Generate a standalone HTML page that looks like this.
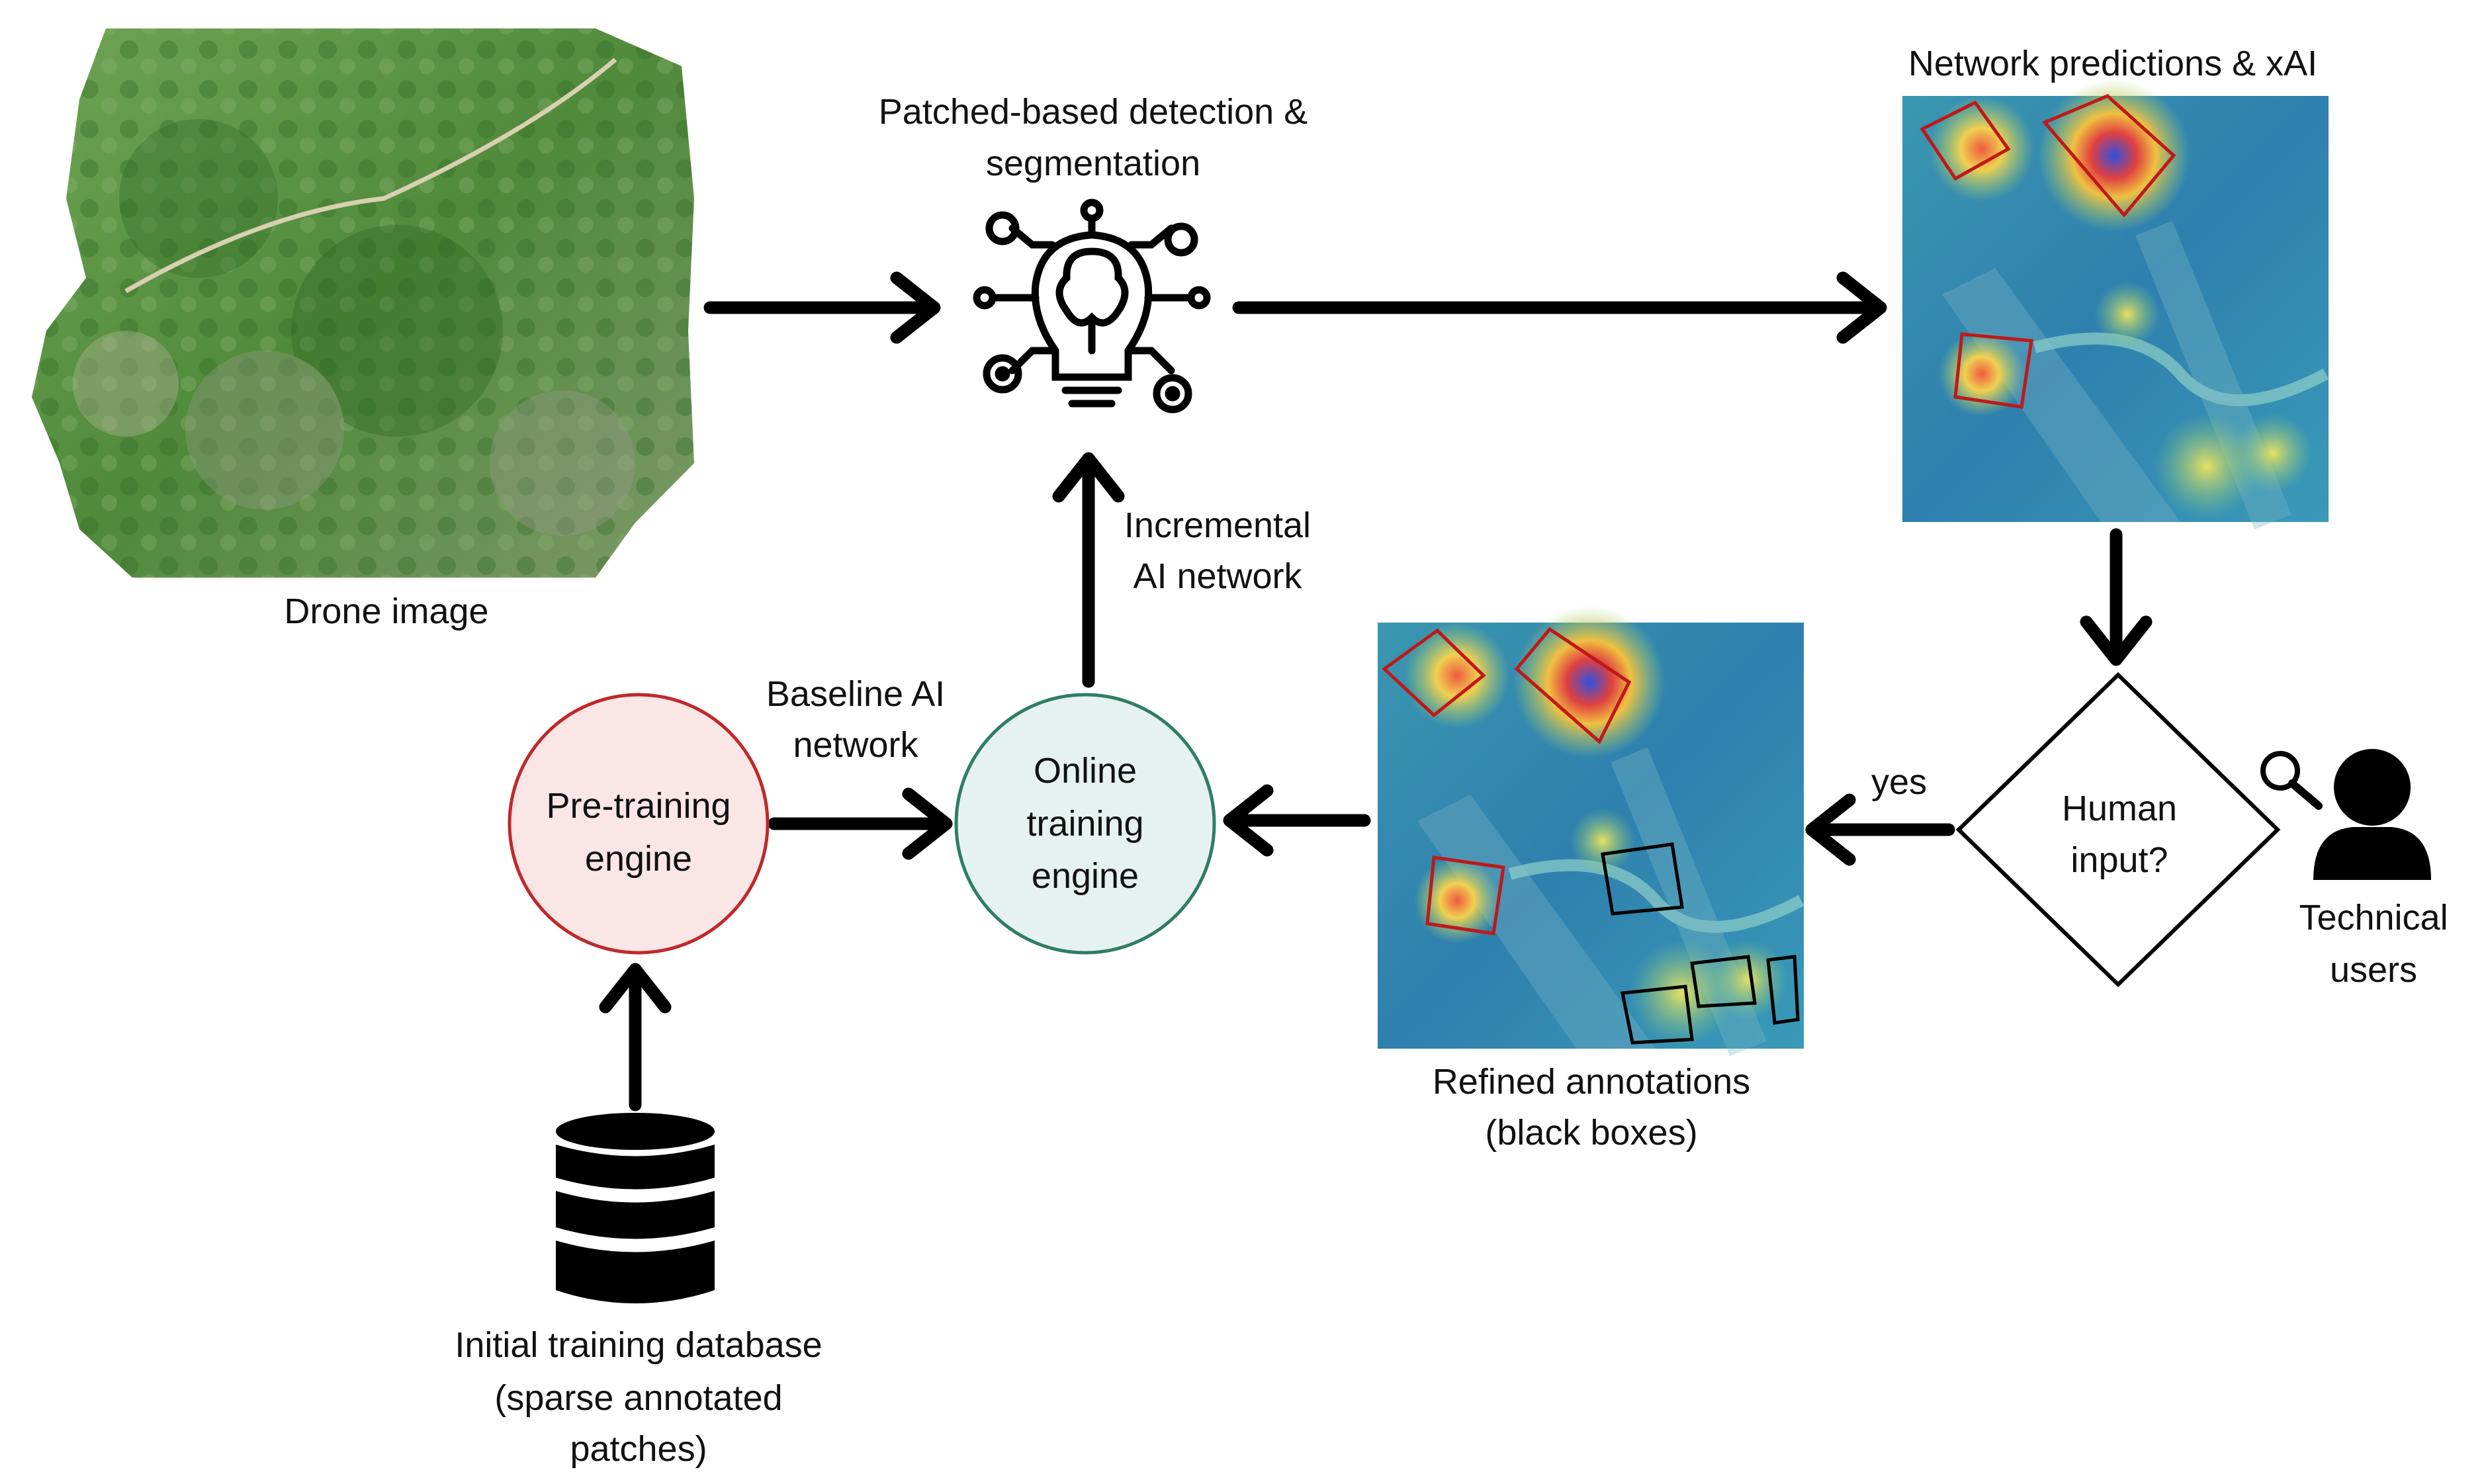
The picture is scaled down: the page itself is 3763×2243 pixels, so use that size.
<!DOCTYPE html>
<html><head><meta charset="utf-8"><style>
html,body{margin:0;padding:0;background:#fff}
svg{display:block}
text{font-family:"Liberation Sans",sans-serif;font-size:54px;fill:#111;text-anchor:middle}
</style></head><body>
<svg width="3763" height="2243" viewBox="0 0 3763 2243" xmlns="http://www.w3.org/2000/svg">
<defs>
<radialGradient id="hotR"><stop offset="0" stop-color="#3050e0"/><stop offset="0.3" stop-color="#e04040"/><stop offset="0.55" stop-color="#f0c040"/><stop offset="1" stop-color="#9fd070" stop-opacity="0"/></radialGradient>
<radialGradient id="hotY"><stop offset="0" stop-color="#f05a40"/><stop offset="0.4" stop-color="#f0d050"/><stop offset="1" stop-color="#a0d070" stop-opacity="0"/></radialGradient>
<radialGradient id="hotG"><stop offset="0" stop-color="#e8e060"/><stop offset="1" stop-color="#80c880" stop-opacity="0"/></radialGradient>
<linearGradient id="heat" x1="0" y1="0" x2="1" y2="1"><stop offset="0" stop-color="#3a96b0"/><stop offset="0.5" stop-color="#2e80ae"/><stop offset="1" stop-color="#3a9ab8"/></linearGradient>
<linearGradient id="green" x1="0" y1="0" x2="1" y2="1"><stop offset="0" stop-color="#6fa455"/><stop offset="0.5" stop-color="#4f8a3a"/><stop offset="1" stop-color="#7d9868"/></linearGradient>
<pattern id="tex" width="60" height="60" patternUnits="userSpaceOnUse">
<circle cx="15" cy="15" r="14" fill="#2f6a22" opacity="0.35"/><circle cx="45" cy="40" r="12" fill="#8ab070" opacity="0.35"/>
</pattern>
<g id="heatbase">
<rect x="0" y="0" width="644" height="644" fill="url(#heat)"/>
<path d="M60 300 L300 644 L420 644 L140 260Z" fill="#6aa8c0" opacity="0.45"/>
<path d="M200 380 Q350 340 420 420 T640 420" stroke="#8fd0c8" stroke-width="18" fill="none" opacity="0.7"/>
<path d="M380 200 L560 644" stroke="#7ab8c4" stroke-width="60" opacity="0.35"/>
<circle cx="120" cy="80" r="80" fill="url(#hotY)"/>
<circle cx="320" cy="90" r="115" fill="url(#hotR)"/>
<circle cx="120" cy="420" r="65" fill="url(#hotY)"/>
<circle cx="460" cy="560" r="80" fill="url(#hotG)"/>
<circle cx="560" cy="540" r="60" fill="url(#hotG)"/>
<circle cx="340" cy="330" r="50" fill="url(#hotG)"/>
</g>
</defs>

<!-- Drone image -->
<g>
<polygon points="160,43 900,43 1030,100 1049,300 1040,500 1049,700 960,790 900,873 200,873 120,800 90,700 48,600 70,500 130,420 100,300 120,150" fill="url(#green)"/>
<polygon points="160,43 900,43 1030,100 1049,300 1040,500 1049,700 960,790 900,873 200,873 120,800 90,700 48,600 70,500 130,420 100,300 120,150" fill="url(#tex)"/>
<g opacity="0.35">
<circle cx="300" cy="300" r="120" fill="#2f6a22"/><circle cx="600" cy="500" r="160" fill="#2c6520"/>
<circle cx="400" cy="650" r="120" fill="#9a9a8a"/>
<circle cx="850" cy="700" r="110" fill="#9a9a90"/><circle cx="190" cy="580" r="80" fill="#c0b8a0"/>
</g>
<path d="M190 440 Q400 320 580 300 Q800 200 930 90" stroke="#d8d0b0" stroke-width="7" fill="none"/>
</g>

<text x="584" y="942">Drone image</text>

<g stroke="#000" stroke-width="19" stroke-linecap="round" stroke-linejoin="round" fill="none">
<line x1="1073" y1="465" x2="1410" y2="465"/><polyline points="1355,420 1412,465 1355,510"/>
<line x1="1872" y1="465" x2="2840" y2="465"/><polyline points="2785,420 2842,465 2785,510"/>
<line x1="3198" y1="808" x2="3198" y2="995"/><polyline points="3153,940 3198,997 3243,940"/>
<line x1="2945" y1="1254" x2="2740" y2="1254"/><polyline points="2795,1209 2738,1254 2795,1299"/>
<line x1="2062" y1="1240" x2="1860" y2="1240"/><polyline points="1915,1195 1858,1240 1915,1285"/>
<line x1="1645" y1="1030" x2="1645" y2="695"/><polyline points="1600,750 1645,693 1690,750"/>
<line x1="1170" y1="1245" x2="1428" y2="1245"/><polyline points="1373,1200 1430,1245 1373,1290"/>
<line x1="960" y1="1670" x2="960" y2="1467"/><polyline points="915,1522 960,1465 1005,1522"/>
</g>

<text x="1652" y="187">Patched-based detection &amp;</text>
<text x="1652" y="265">segmentation</text>
<g stroke="#000" stroke-width="11" fill="none" stroke-linecap="round">
<path d="M1595 530 Q1560 480 1565 430 Q1575 360 1650 355 Q1725 360 1735 430 Q1740 480 1705 530 L1705 570 L1595 570Z"/>
<line x1="1610" y1="590" x2="1690" y2="590"/><line x1="1620" y1="610" x2="1680" y2="610"/>
<path d="M1650 380 Q1610 380 1612 420 Q1590 440 1612 470 Q1630 500 1650 480 Q1670 500 1690 470 Q1710 440 1690 420 Q1692 380 1650 380Z"/>
<line x1="1650" y1="480" x2="1650" y2="530"/>
<line x1="1650" y1="355" x2="1650" y2="330"/><circle cx="1650" cy="318" r="12"/>
<polyline points="1590,370 1560,370 1530,345"/><circle cx="1515" cy="345" r="20"/>
<polyline points="1710,370 1740,370 1770,345"/><circle cx="1785" cy="362" r="20"/>
<line x1="1565" y1="450" x2="1500" y2="450"/><circle cx="1488" cy="450" r="12"/>
<line x1="1735" y1="450" x2="1800" y2="450"/><circle cx="1812" cy="450" r="12"/>
<polyline points="1595,530 1560,530 1530,560"/><circle cx="1515" cy="565" r="24"/><circle cx="1515" cy="565" r="6" fill="#000"/>
<polyline points="1705,530 1740,530 1770,560"/><circle cx="1772" cy="595" r="24"/><circle cx="1772" cy="595" r="6" fill="#000"/>
</g>

<text x="3193" y="114">Network predictions &amp; xAI</text>
<g transform="translate(2875,145)">
<use href="#heatbase"/>
<g fill="none" stroke="#c01818" stroke-width="5">
<polygon points="30,50 110,10 160,80 80,125"/>
<polygon points="215,40 310,0 410,90 335,180"/>
<polygon points="90,360 195,370 180,470 80,455"/>
</g>
</g>

<polygon points="3201,1020 3442,1254 3201,1488 2960,1254" fill="#fff" stroke="#000" stroke-width="6"/>
<text x="3203" y="1240">Human</text>
<text x="3203" y="1318">input?</text>
<text x="2870" y="1200">yes</text>

<circle cx="3585" cy="1190" r="58" fill="#000"/>
<path d="M3496 1330 Q3496 1255 3556 1250 L3614 1250 Q3674 1255 3674 1330Z" fill="#000"/>
<circle cx="3446" cy="1165" r="26" fill="#fff" stroke="#000" stroke-width="8"/>
<line x1="3464" y1="1184" x2="3504" y2="1218" stroke="#000" stroke-width="12" stroke-linecap="round"/>
<text x="3587" y="1405">Technical</text>
<text x="3587" y="1484">users</text>

<g transform="translate(2082,941)">
<use href="#heatbase"/>
<g fill="none" stroke-width="5">
<polygon points="10,70 90,12 160,80 85,140" stroke="#c01818"/>
<polygon points="210,70 260,10 380,90 335,180" stroke="#c01818"/>
<polygon points="85,355 190,370 175,470 75,455" stroke="#c01818"/>
<polygon points="340,350 445,335 460,430 355,440" stroke="#000"/>
<polygon points="370,560 465,550 475,630 385,635" stroke="#000"/>
<polygon points="475,515 560,505 570,575 485,580" stroke="#000"/>
<polygon points="590,510 630,505 635,600 600,605" stroke="#000"/>
</g>
</g>
<text x="2405" y="1653">Refined annotations</text>
<text x="2405" y="1730">(black boxes)</text>

<circle cx="1640" cy="1245" r="195" fill="#e6f2ef" stroke="#2e7d64" stroke-width="5"/>
<text x="1640" y="1183">Online</text><text x="1640" y="1263">training</text><text x="1640" y="1342">engine</text>
<text x="1840" y="812">Incremental</text><text x="1840" y="889">AI network</text>
<circle cx="965" cy="1245" r="195" fill="#fbe6e6" stroke="#c0282a" stroke-width="5"/>
<text x="965" y="1236">Pre-training</text><text x="965" y="1316">engine</text>
<text x="1293" y="1067">Baseline AI</text><text x="1293" y="1144">network</text>

<g fill="#000">
<ellipse cx="960" cy="1710" rx="120" ry="28"/>
<path d="M840 1730 L840 1780 Q960 1815 1080 1780 L1080 1730 Q960 1765 840 1730Z"/>
<path d="M840 1800 L840 1855 Q960 1890 1080 1855 L1080 1800 Q960 1835 840 1800Z"/>
<path d="M840 1875 L840 1950 Q960 1990 1080 1950 L1080 1875 Q960 1910 840 1875Z"/>
</g>
<text x="965" y="2051">Initial training database</text>
<text x="965" y="2131">(sparse annotated</text>
<text x="965" y="2208">patches)</text>
</svg>
</body></html>
